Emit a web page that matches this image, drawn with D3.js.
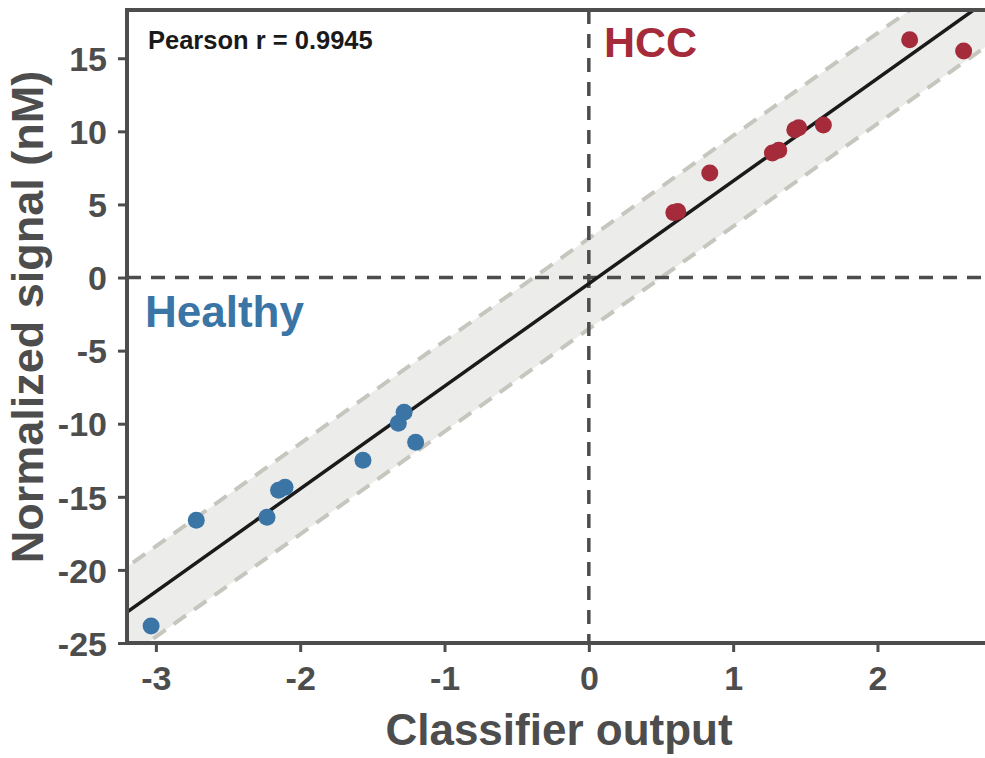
<!DOCTYPE html>
<html><head><meta charset="utf-8">
<script src="https://cdn.jsdelivr.net/npm/d3@7"></script>
<style>body{margin:0;background:#fff}svg{display:block}text{font-family:"Liberation Sans",Arial,sans-serif;font-weight:bold}</style>
</head><body>
<script>
const healthyX = [-3.033,-2.72,-2.23,-2.15,-2.105,-1.565,-1.32,-1.28,-1.20];
const healthyY = [-23.84,-16.6,-16.4,-14.55,-14.34,-12.5,-9.97,-9.22,-11.27];
const hccX = [0.589,0.616,0.838,1.272,1.316,1.427,1.454,1.625,2.223,2.597];
const hccY = [4.44,4.51,7.15,8.52,8.70,10.11,10.25,10.43,16.26,15.5];
const xTicks = [-3,-2,-1,0,1,2];
const yTicks = [-25,-20,-15,-10,-5,0,5,10,15];
const fitSlope = 7.02, fitIntercept = -0.42, bandHalf = 3.1;
const pearson = "Pearson r = 0.9945";

const W=985,H=758;
const m={l:127,t:10,r:0,b:115};
const svg=d3.select("body").append("svg").attr("width",W).attr("height",H);
const x=d3.scaleLinear().domain([-3.2,2.745]).range([m.l,W-m.r]);
const y=d3.scaleLinear().domain([-25,18.3]).range([H-m.b,m.t]);
const axisCol="#4d4d4d";

svg.append("clipPath").attr("id","c").append("rect")
  .attr("x",m.l).attr("y",m.t).attr("width",W-m.l-m.r).attr("height",H-m.b-m.t);
const g=svg.append("g").attr("clip-path","url(#c)");
const xd=[-3.3,2.9];
g.append("path").datum(xd)
  .attr("d",d3.area().x(d=>x(d)).y0(d=>y(fitSlope*d+fitIntercept-bandHalf)).y1(d=>y(fitSlope*d+fitIntercept+bandHalf)))
  .attr("fill","#ececea");
[bandHalf,-bandHalf].forEach(o=>{
  g.append("path").datum(xd).attr("d",d3.line().x(d=>x(d)).y(d=>y(fitSlope*d+fitIntercept+o)))
   .attr("stroke","#c6c5be").attr("stroke-width",4).attr("stroke-dasharray","15,10").attr("fill","none");
});
// crosshairs
g.append("line").attr("x1",x(0)).attr("x2",x(0)).attr("y1",m.t).attr("y2",H-m.b)
  .attr("stroke",axisCol).attr("stroke-width",3.5).attr("stroke-dasharray","14,10");
g.append("line").attr("x1",m.l).attr("x2",W).attr("y1",y(0)).attr("y2",y(0))
  .attr("stroke",axisCol).attr("stroke-width",3.5).attr("stroke-dasharray","14,10");
g.append("path").datum(xd).attr("d",d3.line().x(d=>x(d)).y(d=>y(fitSlope*d+fitIntercept)))
  .attr("stroke","#1a1a1a").attr("stroke-width",3.5).attr("fill","none");

g.selectAll(".h").data(healthyX).enter().append("circle")
  .attr("cx",d=>x(d)).attr("cy",(d,i)=>y(healthyY[i])).attr("r",8.5).attr("fill","#3a75a6");
g.selectAll(".r").data(hccX).enter().append("circle")
  .attr("cx",d=>x(d)).attr("cy",(d,i)=>y(hccY[i])).attr("r",8.5).attr("fill","#a52a3a");

// axes
const fmt=d=>String(d);
const xa=svg.append("g").attr("transform",`translate(0,${H-m.b})`)
  .call(d3.axisBottom(x).tickValues(xTicks).tickSize(9).tickSizeOuter(0).tickPadding(14).tickFormat(fmt));
const ya=svg.append("g").attr("transform",`translate(${m.l},0)`)
  .call(d3.axisLeft(y).tickValues(yTicks).tickSize(9).tickSizeOuter(0).tickPadding(11).tickFormat(fmt));
[xa,ya].forEach(a=>{
  a.select(".domain").attr("stroke",axisCol).attr("stroke-width",4);
  a.selectAll(".tick line").attr("stroke",axisCol).attr("stroke-width",3);
  a.selectAll(".tick text").attr("fill",axisCol).attr("font-size",34).attr("font-family","Liberation Sans, Arial").attr("font-weight","bold");
});
xa.select(".domain").attr("d",`M${m.l-2},0H${W}`);
ya.select(".domain").attr("d",`M0,${m.t-2}V${H-m.b+2}`);
ya.selectAll(".tick text").attr("dy","0.36em");
xa.selectAll(".tick text").attr("dy","0.71em");
// top border
svg.append("line").attr("x1",m.l-2).attr("x2",W).attr("y1",m.t).attr("y2",m.t).attr("stroke",axisCol).attr("stroke-width",4);

svg.append("text").attr("x",559).attr("y",745).attr("text-anchor","middle")
  .attr("font-size",44).attr("fill",axisCol).text("Classifier output");
svg.append("text").attr("transform",`translate(43,317) rotate(-90)`).attr("text-anchor","middle")
  .attr("font-size",45).attr("fill",axisCol).text("Normalized signal (nM)");

svg.append("text").attr("x",148).attr("y",49).attr("font-size",25.5).attr("fill","#1a1a1a").text(pearson);
svg.append("text").attr("x",604).attr("y",57).attr("font-size",43).attr("fill","#a52a3a").text("HCC");
svg.append("text").attr("x",145).attr("y",327).attr("font-size",44).attr("fill","#3a75a6").text("Healthy");
</script>
</body></html>
